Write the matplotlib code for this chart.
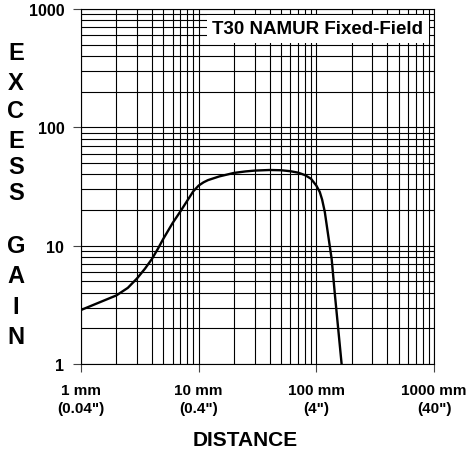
import matplotlib
matplotlib.use('Agg')
import matplotlib.pyplot as plt
from matplotlib.ticker import LogLocator, FixedLocator, NullFormatter

# curve (distance in mm, excess gain)
dist_mm = [1, 2, 2.5, 3, 3.5, 4, 4.5, 5, 6, 7, 8, 9, 10, 11, 12, 15, 20, 25, 30, 40,
           50, 60, 70, 80, 90, 100, 107, 112, 118, 125, 135, 144, 164]
gain = [2.86, 3.8, 4.4, 5.3, 6.4, 7.7, 9.4, 11.4, 15.5, 19.5, 24.0, 28.8, 32.2, 34.3, 35.8,
        38.5, 41.2, 42.4, 43.1, 43.6, 43.4, 42.6, 41.4, 39.5, 36.8, 32.2, 28.4, 24.5, 19.3,
        13.0, 7.7, 3.8, 1.0]

x_ticks = [1, 10, 100, 1000]
x_labels = ['1 mm\n(0.04")', '10 mm\n(0.4")', '100 mm\n(4")', '1000 mm\n(40")']
y_ticks = [1, 10, 100, 1000]
y_labels = ['1', '10', '100', '1000']

title = 'T30 NAMUR Fixed-Field'

plt.rcParams['font.family'] = ['Liberation Sans', 'DejaVu Sans']
plt.rcParams['font.weight'] = 'bold'

W, H = 467, 456
fig = plt.figure(figsize=(W / 100, H / 100), dpi=100)
ax = fig.add_axes([81 / W, 1 - 365 / H, 353 / W, 355 / H])
ax.set_xscale('log')
ax.set_yscale('log')
ax.set_xlim(1, 1000)
ax.set_ylim(1, 1000)

ax.plot(dist_mm, gain, color='black', lw=1.7, zorder=4)

for axis in (ax.xaxis, ax.yaxis):
    axis.set_minor_locator(LogLocator(base=10, subs=range(2, 10)))
    axis.set_minor_formatter(NullFormatter())
ax.xaxis.set_major_locator(FixedLocator(x_ticks))
ax.yaxis.set_major_locator(FixedLocator(y_ticks))
ax.set_xticklabels(x_labels, fontsize=11, fontweight='bold', linespacing=1.35)
ax.set_yticklabels(y_labels, fontsize=11.5, fontweight='bold')

ax.grid(which='both', color='black', lw=0.8)
ax.tick_params(which='major', direction='out', length=6, width=0.8, color='#444')
ax.tick_params(which='minor', length=0)
ax.tick_params(axis='x', pad=8)
ax.tick_params(axis='y', pad=6)
ax.tick_params(top=False, right=False)
for s in ax.spines.values():
    s.set_linewidth(0.8)

ax.text((318 - 81) / 353, (365 - 30) / 355, title, transform=ax.transAxes,
        ha='center', va='center', fontsize=13.5, fontweight='bold', zorder=5,
        bbox=dict(facecolor='white', edgecolor='none', pad=4))

# vertical y label, one letter per line
for ch, yc in zip('EXCESS', [53, 83, 112, 141, 168, 194]):
    fig.text(16 / W, 1 - yc / H, ch, ha='center', va='center', fontsize=17, fontweight='bold')
for ch, yc in zip('GAIN', [247, 277, 307, 337]):
    fig.text(16 / W, 1 - yc / H, ch, ha='center', va='center', fontsize=17, fontweight='bold')

fig.text(245 / W, 1 - 441 / H, 'DISTANCE', ha='center', va='center', fontsize=15, fontweight='bold')

fig.savefig('out.png', dpi=100)
